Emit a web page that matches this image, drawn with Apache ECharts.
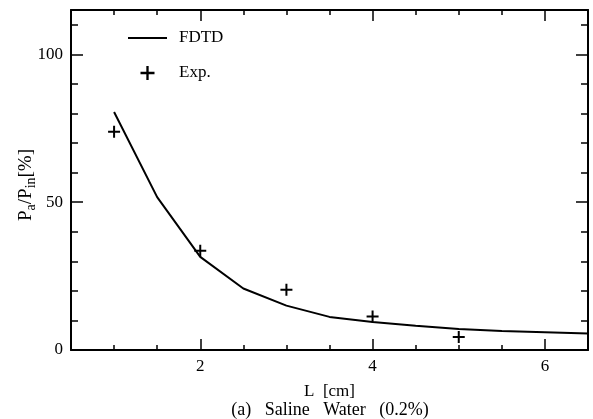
<!DOCTYPE html>
<html>
<head>
<meta charset="utf-8">
<script src="https://cdn.jsdelivr.net/npm/echarts@6/dist/echarts.min.js"></script>
<style>
html,body{margin:0;padding:0;background:#fff;}
#chart{width:593px;height:419px;}
</style>
</head>
<body>
<div id="chart"></div>
<script>
// Data
var fdtdL = [1, 1.5, 2, 2.5, 3, 3.5, 4, 4.5, 5, 5.5, 6, 6.5];
var fdtdP = [80.5, 51.7, 31.5, 20.8, 15.0, 11.2, 9.5, 8.2, 7.1, 6.4, 6.0, 5.6];
var expL = [1, 2, 3, 4, 5];
var expP = [73.8, 33.6, 20.4, 11.3, 4.4];
var xTickLabels = [2, 4, 6];
var yTickLabels = [0, 50, 100];

var FONT = 'Liberation Serif';
var black = '#000';

function pairs(xs, ys) { return xs.map(function (x, i) { return [x, ys[i]]; }); }

var plusPath = 'path://M5,0H7V5H12V7H7V12H5V7H0V5H5Z';

var xBase = {
  type: 'value', min: 0.5, max: 6.5, interval: 0.5,
  splitLine: { show: false }
};
var yBase = {
  type: 'value', min: 0, max: 115, interval: 10,
  splitLine: { show: false }
};

var chart = echarts.init(document.getElementById('chart'), null, { renderer: 'canvas' });
chart.setOption({
  animation: false,
  backgroundColor: '#fff',
  grid: { left: 71, right: 5, top: 10, bottom: 69, containLabel: false, outerBoundsMode: 'none' },
  legend: {
    orient: 'vertical', left: 127, top: 28, itemGap: 15, padding: 0,
    itemWidth: 39, itemHeight: 14,
    textStyle: { fontFamily: FONT, fontSize: 17, color: black, lineHeight: 20, padding: [0, 0, 0, 7] },
    data: [
      { name: 'FDTD', itemStyle: { opacity: 0 } },
      { name: 'Exp.', icon: plusPath, itemStyle: { color: black } }
    ]
  },
  xAxis: [
    Object.assign({}, xBase, {
      position: 'bottom',
      axisLine: { show: true, onZero: false, lineStyle: { color: black, width: 2 } },
      axisTick: { show: true, inside: true, length: 5, lineStyle: { color: black, width: 1.5 } },
      axisLabel: { show: true, customValues: xTickLabels, margin: 8, fontFamily: FONT, fontSize: 17, color: black },
      name: 'L  [cm]', nameLocation: 'middle', nameGap: 33,
      nameTextStyle: { fontFamily: FONT, fontSize: 17, color: black }
    }),
    Object.assign({}, xBase, {
      position: 'bottom',
      axisLine: { show: false, onZero: false },
      axisTick: { show: true, inside: true, length: 11, customValues: xTickLabels, lineStyle: { color: black, width: 1.5 } },
      axisLabel: { show: false }
    }),
    Object.assign({}, xBase, {
      position: 'top',
      axisLine: { show: true, onZero: false, lineStyle: { color: black, width: 2 } },
      axisTick: { show: true, inside: true, length: 5, lineStyle: { color: black, width: 1.5 } },
      axisLabel: { show: false }
    }),
    Object.assign({}, xBase, {
      position: 'top',
      axisLine: { show: false, onZero: false },
      axisTick: { show: true, inside: true, length: 11, customValues: xTickLabels, lineStyle: { color: black, width: 1.5 } },
      axisLabel: { show: false }
    })
  ],
  yAxis: [
    Object.assign({}, yBase, {
      position: 'left',
      axisLine: { show: true, onZero: false, lineStyle: { color: black, width: 2 } },
      axisTick: { show: true, inside: true, length: 7, lineStyle: { color: black, width: 1.5 } },
      axisLabel: { show: true, customValues: yTickLabels, margin: 8, fontFamily: FONT, fontSize: 17, color: black }
    }),
    Object.assign({}, yBase, {
      position: 'left',
      axisLine: { show: false, onZero: false },
      axisTick: { show: true, inside: true, length: 12, customValues: yTickLabels, lineStyle: { color: black, width: 1.5 } },
      axisLabel: { show: false }
    }),
    Object.assign({}, yBase, {
      position: 'right',
      axisLine: { show: true, onZero: false, lineStyle: { color: black, width: 2 } },
      axisTick: { show: true, inside: true, length: 7, lineStyle: { color: black, width: 1.5 } },
      axisLabel: { show: false }
    }),
    Object.assign({}, yBase, {
      position: 'right',
      axisLine: { show: false, onZero: false },
      axisTick: { show: true, inside: true, length: 12, customValues: yTickLabels, lineStyle: { color: black, width: 1.5 } },
      axisLabel: { show: false }
    })
  ],
  graphic: [
    {
      type: 'text', x: 26, y: 185, rotation: Math.PI / 2,
      style: {
        text: '{m|P}{s|a}{m|/P}{s|in}{m|[%]}',
        fontFamily: FONT, fill: black,
        align: 'center', verticalAlign: 'middle',
        rich: {
          m: { fontFamily: FONT, fontSize: 19, lineHeight: 25, verticalAlign: 'middle', fill: black },
          s: { fontFamily: FONT, fontSize: 14, lineHeight: 25, verticalAlign: 'bottom', fill: black }
        }
      }
    },
    {
      type: 'text', x: 330, y: 410,
      style: {
        text: '(a)   Saline   Water   (0.2%)',
        fontFamily: FONT, fontSize: 18, fill: black,
        align: 'center', verticalAlign: 'middle'
      }
    }
  ],
  series: [
    {
      name: 'FDTD', type: 'line', xAxisIndex: 0, yAxisIndex: 0,
      data: pairs(fdtdL, fdtdP),
      symbol: 'none', showSymbol: false, smooth: false,
      lineStyle: { color: black, width: 2 },
      itemStyle: { color: black },
      clip: true, z: 3
    },
    {
      name: 'Exp.', type: 'scatter', xAxisIndex: 0, yAxisIndex: 0,
      data: pairs(expL, expP),
      symbol: plusPath, symbolSize: 12,
      itemStyle: { color: black, opacity: 1 },
      z: 4
    }
  ]
});
</script>
</body>
</html>
